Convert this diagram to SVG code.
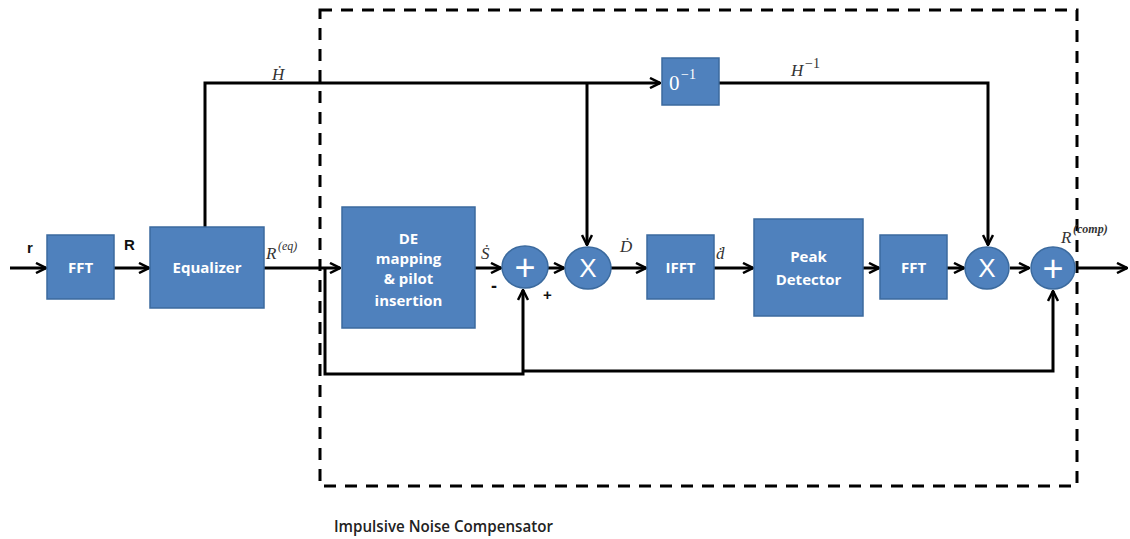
<svg xmlns="http://www.w3.org/2000/svg" width="1130" height="539" viewBox="0 0 1130 539">
<style>
.box{fill:#4F81BD;stroke:#3B6A9E;stroke-width:1.5}
.bt{fill:#fff;font-family:"Open Sans","Liberation Sans",sans-serif;font-weight:bold;font-size:15px;text-anchor:middle}
.ln{fill:none;stroke:#000;stroke-width:3}
.math{font-family:"Liberation Serif",serif;font-style:italic;font-size:17px;fill:#333}
.sup{font-family:"Liberation Serif",serif;font-style:italic;font-size:12px;fill:#333}
.lab{font-family:"Liberation Sans",sans-serif;font-weight:bold;font-size:15px;fill:#111}
.sym{fill:#fff;font-family:"Liberation Sans",sans-serif;font-size:26px;text-anchor:middle}
.plus{fill:#fff;font-family:"Liberation Sans",sans-serif;font-size:36px;text-anchor:middle}
</style>
<defs>
<marker id="ar" viewBox="0 0 12 12" refX="11" refY="6" markerWidth="12" markerHeight="12" markerUnits="userSpaceOnUse" orient="auto">
<path d="M1,1 L11,6 L1,11" fill="none" stroke="#000" stroke-width="2.5"/>
</marker>
</defs>
<rect x="320" y="10" width="757" height="476" fill="none" stroke="#000" stroke-width="3" stroke-dasharray="12 9"/>
<g id="connectors">
<line class="ln" x1="10" y1="268" x2="46" y2="268" marker-end="url(#ar)"/>
<line class="ln" x1="114" y1="268" x2="149" y2="268" marker-end="url(#ar)"/>
<line class="ln" x1="264" y1="268" x2="340" y2="268" marker-end="url(#ar)"/>
<polyline class="ln" points="205,227 205,83 660,83" marker-end="url(#ar)"/>
<line class="ln" x1="587" y1="83" x2="587" y2="245" marker-end="url(#ar)"/>
<polyline class="ln" points="719,83 988,83 988,245" marker-end="url(#ar)"/>
<polyline class="ln" points="325,268 325,374 523,374 523,290" marker-end="url(#ar)"/>
<polyline class="ln" points="523,371 1053,371 1053,291" marker-end="url(#ar)"/>
<line class="ln" x1="475" y1="268" x2="501" y2="268" marker-end="url(#ar)"/>
<line class="ln" x1="548" y1="268" x2="564" y2="268" marker-end="url(#ar)"/>
<line class="ln" x1="611" y1="268" x2="646" y2="268" marker-end="url(#ar)"/>
<line class="ln" x1="700" y1="268" x2="753" y2="268" marker-end="url(#ar)"/>
<line class="ln" x1="863" y1="268" x2="879" y2="268" marker-end="url(#ar)"/>
<line class="ln" x1="918" y1="268" x2="964" y2="268" marker-end="url(#ar)"/>
<line class="ln" x1="1010" y1="268" x2="1029" y2="268" marker-end="url(#ar)"/>
<line class="ln" x1="1076" y1="268" x2="1127" y2="268" marker-end="url(#ar)"/>
</g>
<g id="fft1"><rect class="box" x="47" y="235" width="67" height="64"/><text class="bt" x="80.5" y="273">FFT</text></g>
<g id="equalizer"><rect class="box" x="150" y="227" width="114" height="81"/><text class="bt" x="207" y="273">Equalizer</text></g>
<g id="inv"><rect class="box" x="662" y="58" width="57" height="47"/><text x="669" y="90" style="font-family:'Liberation Serif',serif;font-size:21px;fill:#fff">0</text><text x="681" y="79" style="font-family:'Liberation Serif',serif;font-size:14px;fill:#fff">−1</text></g>
<g id="de"><rect class="box" x="342" y="207" width="133" height="121"/><text class="bt" x="408.5" y="244">DE</text><text class="bt" x="408.5" y="264">mapping</text><text class="bt" x="408.5" y="284">&amp; pilot</text><text class="bt" x="408.5" y="306">insertion</text></g>
<g id="plus1"><ellipse class="box" cx="525" cy="267" rx="23" ry="21"/><text class="plus" x="525" y="280">+</text></g>
<g id="mult1"><ellipse class="box" cx="588" cy="268" rx="23" ry="21"/><text class="sym" x="588" y="277">X</text></g>
<g id="ifft"><rect class="box" x="647" y="235" width="67" height="64"/><text class="bt" x="680.5" y="273">IFFT</text></g>
<g id="peak"><rect class="box" x="754" y="219" width="109" height="97"/><text class="bt" x="808.5" y="262">Peak</text><text class="bt" x="808.5" y="285">Detector</text></g>
<g id="fft2"><rect class="box" x="880" y="235" width="67" height="64"/><text class="bt" x="913.5" y="273">FFT</text></g>
<g id="mult2"><ellipse class="box" cx="987" cy="268" rx="22" ry="21"/><text class="sym" x="987" y="277">X</text></g>
<g id="plus2"><ellipse class="box" cx="1053" cy="268" rx="22" ry="21"/><text class="plus" x="1053" y="281">+</text></g>
<g id="labels">
<text class="lab" x="27" y="253">r</text>
<text class="lab" x="124" y="250">R</text>
<text class="math" x="266" y="259">R</text><text class="sup" x="278" y="250">(eq)</text>
<text class="math" x="272" y="80">Ḣ</text>
<text class="math" x="791" y="76">H</text><text x="805" y="68" style="font-family:'Liberation Serif',serif;font-size:14px;fill:#333">−1</text>
<text class="math" x="481" y="259">Ṡ</text>
<text class="math" x="620" y="252">Ḋ</text>
<text class="math" x="716" y="259">ḋ</text>
<text class="math" x="1061" y="243">R</text><text x="1073" y="233" style="font-family:'Liberation Serif',serif;font-style:italic;font-weight:bold;font-size:12px;fill:#333">(comp)</text>
<text x="491" y="292" style="font-family:'Liberation Sans',sans-serif;font-weight:bold;font-size:18px;fill:#111">-</text>
<text x="543" y="300" style="font-family:'Liberation Sans',sans-serif;font-weight:bold;font-size:15px;fill:#111">+</text>
<text x="334" y="532" style="font-family:'Open Sans','Liberation Sans',sans-serif;font-weight:600;font-size:17px;fill:#222" textLength="219" lengthAdjust="spacingAndGlyphs">Impulsive Noise Compensator</text>
</g>
</svg>
